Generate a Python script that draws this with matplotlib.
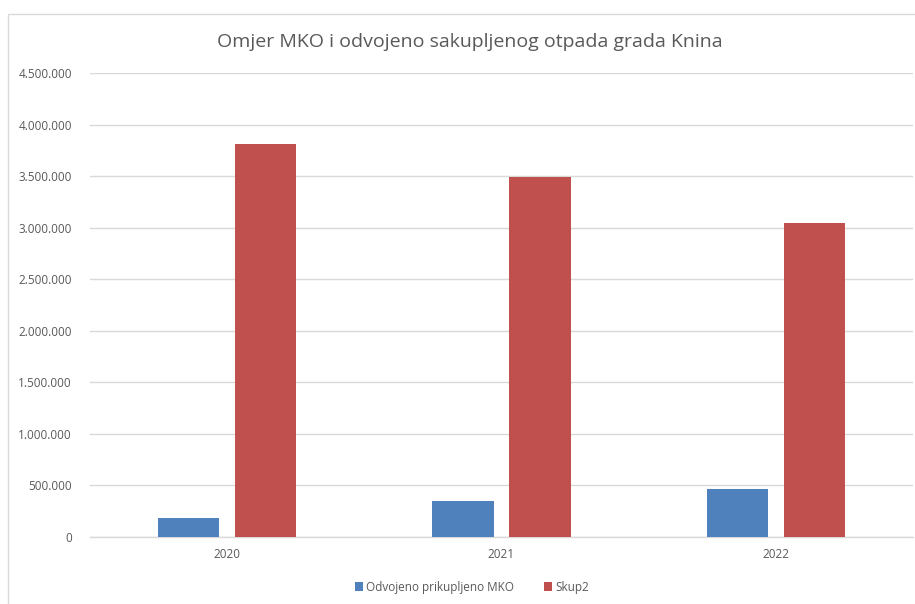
import numpy as np
import matplotlib
matplotlib.use("Agg")
import matplotlib.pyplot as plt
from matplotlib.ticker import FuncFormatter, MultipleLocator
from matplotlib.patches import Rectangle

years = ["2020", "2021", "2022"]
odvojeno = [180000, 350000, 462000]
skup2 = [3811000, 3490000, 3043000]
series_names = ["Odvojeno prikupljeno MKO", "Skup2"]

plt.rcParams['font.family'] = ['Open Sans', 'DejaVu Sans']
txt = '#595959'
grid = '#d9d9d9'

fig = plt.figure(figsize=(9.15, 6.04), dpi=100)
ax = fig.add_axes([90 / 915, 67 / 604, 823 / 915, 464 / 604])

x = np.arange(len(years))
w = 0.223
ax.bar(x - 0.1405, odvojeno, w, color='#4F81BD', label=series_names[0], zorder=3)
ax.bar(x + 0.1405, skup2, w, color='#C0504D', label=series_names[1], zorder=3)

ax.set_xlim(-0.5, 2.5)
ax.set_ylim(0, 4500000)
ax.yaxis.set_major_locator(MultipleLocator(500000))
ax.yaxis.set_major_formatter(FuncFormatter(lambda v, p: f"{int(v):,}".replace(",", ".")))
ax.set_xticks(x)
ax.set_xticklabels(years)
ax.grid(axis='y', color=grid, linewidth=1, zorder=0)
for s in ['top', 'right', 'left']:
    ax.spines[s].set_visible(False)
ax.spines['bottom'].set_color(grid)
ax.spines['bottom'].set_linewidth(1)
ax.tick_params(axis='both', length=0, labelsize=8.5, colors=txt)
ax.tick_params(axis='y', pad=13)
ax.tick_params(axis='x', pad=8)

fig.text(470 / 915, 1 - 42 / 604, "Omjer MKO i odvojeno sakupljenog otpada grada Knina",
         ha='center', va='center', fontsize=14, color=txt)

fig.legend(loc='center', bbox_to_anchor=(472 / 915, 1 - 587 / 604), ncol=2, frameon=False,
           fontsize=8.5, labelcolor=txt, handlelength=0.7, handleheight=0.7,
           columnspacing=2.5, handletextpad=0.3)

fig.patches.append(Rectangle((8 / 915, -0.05), 1, 1 - 14 / 604 + 0.05, transform=fig.transFigure,
                             fill=False, edgecolor=grid, linewidth=1))

plt.savefig("out.png", dpi=100)
